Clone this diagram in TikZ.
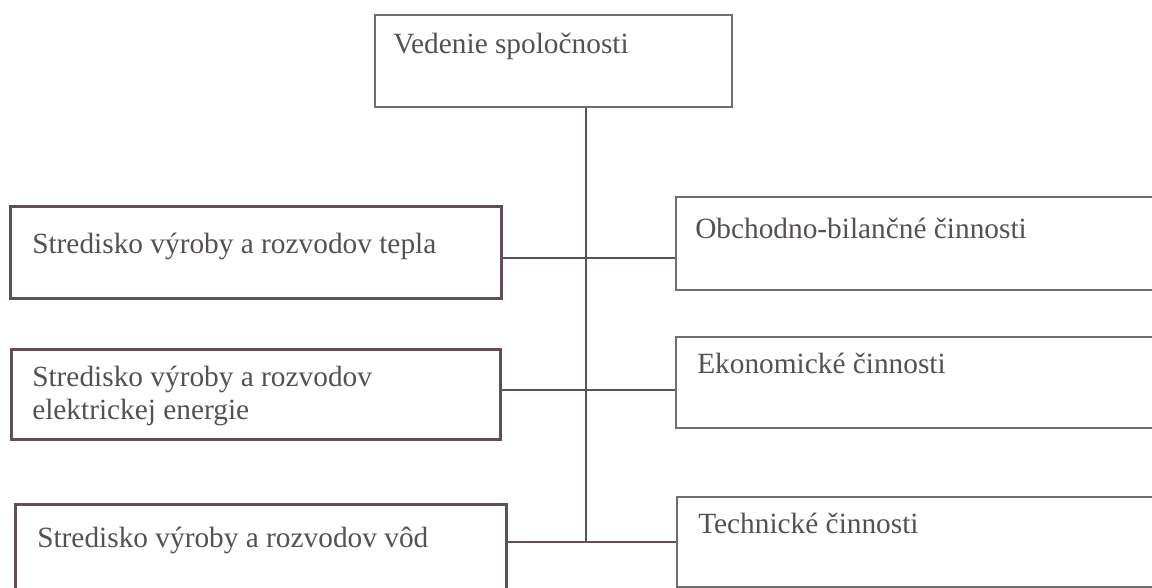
\documentclass[tikz,border=0pt]{standalone}
\usepackage{fontspec}
\setmainfont{Liberation Serif}
\definecolor{ciara}{RGB}{98,78,90}
\definecolor{sediva}{RGB}{112,108,112}
\definecolor{pismo}{RGB}{85,80,85}
\tikzset{
  ramec/.style 2 args={draw=sediva, line width=1.4pt, minimum width=#1*0.75pt, minimum height=#2*0.75pt, anchor=north west, inner sep=0pt},
  hrubyramec/.style 2 args={ramec={#1}{#2}, draw=ciara, line width=2.2pt},
  popis/.style={anchor=base west, inner sep=0pt, text=pismo, font=\fontsize{22}{24.75}\selectfont, align=left},
  spoj/.style={draw=ciara, line width=1.3pt}
}
\begin{document}
\begin{tikzpicture}[x=0.75pt,y=0.75pt,yscale=-1,xscale=1]
                \clip (0,0) rectangle (1152,587);
                \fill[white] (0,0) rectangle (1152,587);
                
                %Shape: Rectangle [vedenie]
                \node[ramec={357}{92}] (vedenie) at (374,14) {};
                %Shape: Rectangle [left]
                \node[hrubyramec={491}{92}] (teplo) at (9,205) {};
                \node[hrubyramec={489}{90}] (elektrina) at (10,348) {};
                \node[hrubyramec={491}{92}] (voda) at (14,503) {};
                %Shape: Rectangle [right]
                \node[ramec={485}{93}] (obchod) at (675,196) {};
                \node[ramec={485}{91}] (ekonom) at (675,336) {};
                \node[ramec={484}{90}] (technika) at (676,496) {};
                
                %Straight Lines [spine]
                \coordinate (k1) at (586,258);
                \coordinate (k2) at (586,390);
                \coordinate (k3) at (586,542);
                \draw[spoj] (vedenie.south -| k3) -- (k3);
                %Straight Lines [branches]
                \draw[spoj] (teplo.east |- k1) -- (obchod.west |- k1);
                \draw[spoj] (elektrina.east |- k2) -- (ekonom.west |- k2);
                \draw[spoj] (voda.east |- k3) -- (technika.west |- k3);
                
                % Text Node
                \node[popis] (tVedenie) at (393,53) {Vedenie spoločnosti};
                \node[popis] (tTeplo) at (32,253) {Stredisko výroby a rozvodov tepla};
                \node[popis] (tElektrina) at (32,419) {Stredisko výroby a rozvodov\\elektrickej energie};
                \node[popis] (tVoda) at (37,547) {Stredisko výroby a rozvodov vôd};
                \node[popis] (tObchod) at (695,238) {Obchodno-bilančné činnosti};
                \node[popis] (tEkonom) at (697,373) {Ekonomické činnosti};
                \node[popis] (tTechnika) at (698,533) {Technické činnosti};
                
                \end{tikzpicture}
\end{document}
